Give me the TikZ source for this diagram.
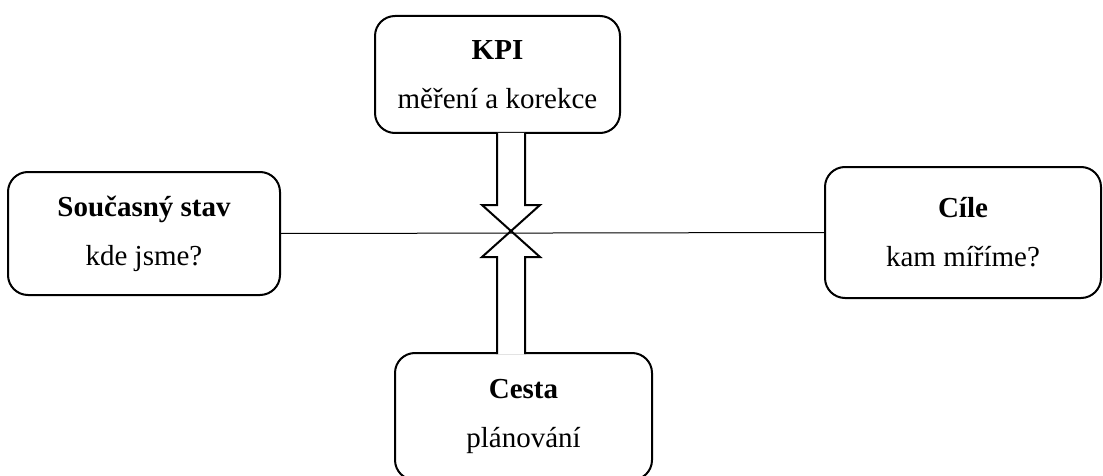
\documentclass[tikz,border=0pt]{standalone}
\usepackage{fontspec}
\setmainfont{Liberation Serif}
\tikzset{
  box/.style={draw, line width=1pt, rounded corners=10pt, align=center,
    inner sep=0pt, font=\fontsize{14.5}{24.5}\selectfont},
  blockarrow/.style={draw, fill=white, line width=1pt, line join=miter}
}
\begin{document}
\begin{tikzpicture}[x=0.5pt,y=-0.5pt]
  \useasboundingbox (0,0) rectangle (1103,476);
  \node[box, minimum width=122.5pt, minimum height=58.5pt] (kpi) at (497.5,74.5)
    {\textbf{KPI}\\měření a korekce};
  \node[box, minimum width=136pt, minimum height=61.5pt] (stav) at (144,233.5)
    {\textbf{Současný stav}\\kde jsme?};
  \node[box, minimum width=138pt, minimum height=65.5pt] (cile) at (963,232.5)
    {\textbf{Cíle}\\kam míříme?};
  \node[box, minimum width=128.5pt, minimum height=63.5pt] (cesta) at (523.5,416.5)
    {\textbf{Cesta}\\plánování};
  \coordinate (x) at (511,231);
  % vertical block arrows meeting in the middle
  \draw[blockarrow] (497,133) -- (497,205) -- (482,205) -- (x) -- (540,205)
    -- (525,205) -- (525,133);
  \draw[blockarrow] (497,354) -- (497,257) -- (482,257) -- (x) -- (540,257)
    -- (525,257) -- (525,354);
  \draw[line width=0.5pt] (stav.east) -- (cile.west);
\end{tikzpicture}
\end{document}
